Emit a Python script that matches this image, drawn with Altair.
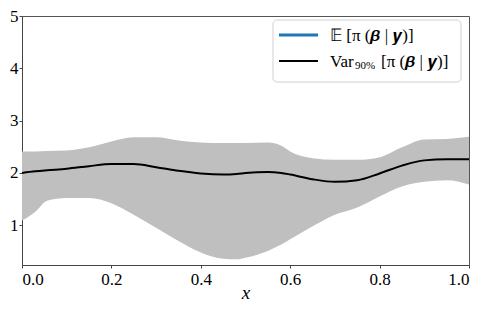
import altair as alt
import pandas as pd

xs = [0, 0.03, 0.056, 0.1, 0.15, 0.2, 0.25, 0.3, 0.35, 0.4, 0.45, 0.48, 0.5,
      0.55, 0.58, 0.6, 0.65, 0.7, 0.75, 0.8, 0.85, 0.9, 0.95, 1.0]
mean = [2.00, 2.03, 2.05, 2.08, 2.13, 2.17, 2.17, 2.11, 2.04, 1.99, 1.97, 1.98, 2.00,
        2.02, 2.00, 1.97, 1.88, 1.83, 1.86, 1.99, 2.14, 2.24, 2.26, 2.26]
upper = [2.41, 2.41, 2.42, 2.43, 2.49, 2.60, 2.68, 2.68, 2.62, 2.58, 2.57, 2.57, 2.57,
         2.58, 2.52, 2.41, 2.28, 2.25, 2.25, 2.30, 2.49, 2.64, 2.65, 2.69]
lower = [1.09, 1.26, 1.47, 1.52, 1.52, 1.42, 1.20, 0.95, 0.70, 0.48, 0.36, 0.35, 0.38,
         0.51, 0.63, 0.73, 0.98, 1.20, 1.34, 1.55, 1.74, 1.83, 1.86, 1.78]

x_ticks = [0, 0.2, 0.4, 0.6, 0.8, 1.0]
y_ticks = [1, 2, 3, 4, 5]
legend_labels = ["𝔼 [π (𝜷 | 𝒚)]", "Var", "90%", "[π (𝜷 | 𝒚)]"]

df = pd.DataFrame({"x": xs, "mean": mean, "upper": upper, "lower": lower})

FONT = "Liberation Serif"
xscale = alt.Scale(domain=[0, 1], nice=False, zero=False)
yscale = alt.Scale(domain=[0.24, 5], nice=False, zero=False)

common = dict(grid=False, labelFont=FONT, labelFontSize=17, labelColor="black",
              tickSize=3, tickColor="#444", domainColor="#444")
xaxis = alt.Axis(values=x_ticks, format=".1f", title="x", titleY=33,
                 titleBaseline="alphabetic", titleFontStyle="italic", titleFontSize=19,
                 titleFont=FONT, titleFontWeight="normal", titleColor="black",
                 labelPadding=3, **common)
yaxis = alt.Axis(values=y_ticks, format="d", title=None, labelPadding=1, **common)

band = alt.Chart(df).mark_area(color="#bfbfbf", opacity=1, interpolate="monotone").encode(
    x=alt.X("x:Q", scale=xscale, axis=xaxis),
    y=alt.Y("upper:Q", scale=yscale, axis=yaxis),
    y2="lower:Q",
)
line = alt.Chart(df).mark_line(color="black", strokeWidth=2, interpolate="monotone").encode(
    x=alt.X("x:Q", scale=xscale, axis=xaxis),
    y=alt.Y("mean:Q", scale=yscale, axis=yaxis),
)

one = alt.Data(values=[{"a": 1}])
bx0, by0 = 251, 4
box = alt.Chart(one).mark_rect(fill="white", fillOpacity=0.8, stroke="#d0d0d0",
                               strokeWidth=1, cornerRadius=4).encode(
    x=alt.value(bx0), x2=alt.value(bx0 + 188), y=alt.value(by0), y2=alt.value(by0 + 62))
l1 = alt.Chart(one).mark_rule(color="#1f77b4", strokeWidth=3).encode(
    x=alt.value(bx0 + 6), x2=alt.value(bx0 + 45), y=alt.value(by0 + 15))
l2 = alt.Chart(one).mark_rule(color="black", strokeWidth=2).encode(
    x=alt.value(bx0 + 6), x2=alt.value(bx0 + 45), y=alt.value(by0 + 41))
t1 = alt.Chart(one).mark_text(text=legend_labels[0], align="left", baseline="middle",
                              font=FONT, fontSize=17, color="black").encode(
    x=alt.value(bx0 + 57), y=alt.value(by0 + 16))
t2 = alt.Chart(one).mark_text(text=legend_labels[1], align="left", baseline="middle",
                              font=FONT, fontSize=17, color="black").encode(
    x=alt.value(bx0 + 57), y=alt.value(by0 + 42))
t3 = alt.Chart(one).mark_text(text=legend_labels[2], align="left", baseline="middle",
                              font=FONT, fontSize=11, color="black").encode(
    x=alt.value(bx0 + 82), y=alt.value(by0 + 46))
t4 = alt.Chart(one).mark_text(text=legend_labels[3], align="left", baseline="middle",
                              font=FONT, fontSize=17, color="black").encode(
    x=alt.value(bx0 + 108), y=alt.value(by0 + 42))

chart = alt.layer(band, line, box, l1, l2, t1, t2, t3, t4).properties(
    width=447, height=249,
    background="white",
    autosize=alt.AutoSizeParams(type="none"),
    padding={"left": 14, "top": 8, "right": 11, "bottom": 36},
).configure_view(stroke="#555", strokeWidth=1)

chart.save("out.html", embed_options={"renderer": "svg", "actions": False})
